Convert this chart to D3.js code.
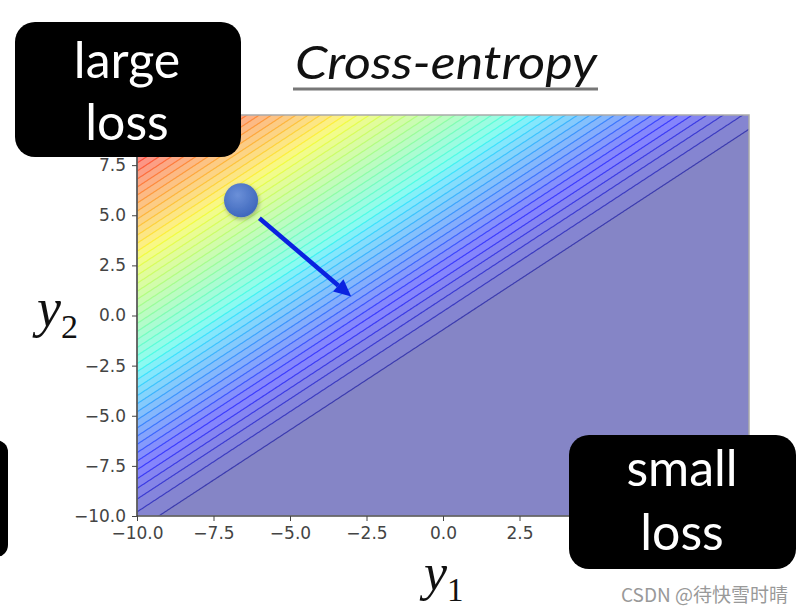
<!DOCTYPE html>
<html><head><meta charset="utf-8">
<script src="https://cdn.jsdelivr.net/npm/d3@7"></script>
<style>body{margin:0;background:#fff}svg{display:block}</style>
</head><body><svg id="c" width="804" height="614"></svg>
<script>
// ---- data ----
const y1Domain = [-10, 10];
const y2Domain = [-10, 10];
// only the ticks that are not hidden behind the label boxes
const xTickValues = [-10, -7.5, -5, -2.5, 0, 2.5];
const xTickLabels = ["−10.0", "−7.5", "−5.0", "−2.5", "0.0", "2.5"];
const yTickValues = [-10, -7.5, -5, -2.5, 0, 2.5, 5, 7.5];
const yTickLabels = ["−10.0", "−7.5", "−5.0", "−2.5", "0.0", "2.5", "5.0", "7.5"];
const lossLevels = [0, 0.4, 0.8, 1.2, 1.6, 2, 2.4, 2.8, 3.2, 3.6, 4, 4.4, 4.8, 5.2, 5.6, 6, 6.4, 6.8, 7.2, 7.6, 8,
  8.4, 8.8, 9.2, 9.6, 10, 10.4, 10.8, 11.2, 11.6, 12, 12.4, 12.8, 13.2, 13.6, 14, 14.4, 14.8, 15.2, 15.6, 16,
  16.4, 16.8, 17.2, 17.6, 18, 18.4, 18.8, 19.2, 19.6, 20];
const startPoint = [-6.6, 5.75];
const arrowFrom = [-6.0, 4.85];
const arrowTo = [-3.0, 0.95];
const titleText = "Cross-entropy";
const boxTopLeft = ["large", "loss"];
const boxBottomRight = ["small", "loss"];
const watermark = "CSDN @待快雪时晴";

// cross-entropy of softmax([y1, y2]) with target class 1
function loss(y1, y2) { return Math.log1p(Math.exp(y2 - y1)); }

// ---- scales ----
const svg = d3.select("#c");
const X = d3.scaleLinear().domain(y1Domain).range([137, 749]);
const Y = d3.scaleLinear().domain(y2Domain).range([516, 115]);

// jet colormap
function seg(p) { return d3.scaleLinear().domain(p.map(d => d[0])).range(p.map(d => d[1])).clamp(true); }
const jr = seg([[0, 0], [0.35, 0], [0.66, 1], [0.89, 1], [1, 0.5]]);
const jg = seg([[0, 0], [0.125, 0], [0.375, 1], [0.64, 1], [0.91, 0], [1, 0]]);
const jb = seg([[0, 0.5], [0.11, 1], [0.34, 1], [0.65, 0], [1, 0]]);
function jet(t, a) {
  const f = v => Math.round(v * 255 * a + 250 * (1 - a));
  return `rgb(${f(jr(t))},${f(jg(t))},${f(jb(t))})`;
}
const vmax = lossLevels[lossLevels.length - 1];

// ---- grid ----
const lo = -10.6, hi = 10.6, n = 300;
const values = new Array(n * n);
for (let j = 0; j < n; j++) for (let i = 0; i < n; i++) {
  const a = lo + (hi - lo) * (i + 0.5) / n, b = lo + (hi - lo) * (j + 0.5) / n;
  values[j * n + i] = loss(a, b);
}
const contours = d3.contours().size([n, n]).thresholds(lossLevels)(values);
const proj = d3.geoTransform({ point(x, y) { this.stream.point(X(lo + (hi - lo) * x / n), Y(lo + (hi - lo) * y / n)); } });
const path = d3.geoPath(proj);

const defs = svg.append("defs");
defs.append("clipPath").attr("id", "clip").append("rect")
  .attr("x", X(-10)).attr("y", Y(10)).attr("width", X(10) - X(-10)).attr("height", Y(-10) - Y(10));

const plot = svg.append("g").attr("clip-path", "url(#clip)");
const step = lossLevels[1] - lossLevels[0];
plot.selectAll("path.band").data(contours).join("path").attr("class", "band")
  .attr("d", path)
  .attr("fill", d => jet(Math.min(1, (d.value + step / 2) / vmax), 0.47))
  .attr("stroke", "none");
plot.selectAll("path.iso").data(contours.slice(1)).join("path").attr("class", "iso")
  .attr("d", path)
  .attr("fill", "none")
  .attr("stroke", d => jet(d.value / vmax, 1))
  .attr("stroke-opacity", 0.55)
  .attr("stroke-width", 1.2);

// frame
svg.append("rect").attr("x", X(-10)).attr("y", Y(10)).attr("width", X(10) - X(-10)).attr("height", Y(-10) - Y(10))
  .attr("fill", "none").attr("stroke", "#aaa").attr("stroke-width", 1.5);
svg.append("line").attr("x1", X(-10)).attr("x2", X(-10)).attr("y1", Y(10)).attr("y2", Y(-10)).attr("stroke", "#333").attr("stroke-width", 1.2);
svg.append("line").attr("x1", X(-10)).attr("x2", X(10)).attr("y1", Y(-10)).attr("y2", Y(-10)).attr("stroke", "#333").attr("stroke-width", 1.2);

// axes
const xAxis = d3.axisBottom(X).tickValues(xTickValues).tickFormat((d, i) => xTickLabels[i]).tickSize(5).tickPadding(6);
const yAxis = d3.axisLeft(Y).tickValues(yTickValues).tickFormat((d, i) => yTickLabels[i]).tickSize(5).tickPadding(6);
const gx = svg.append("g").attr("transform", `translate(0,${Y(-10)})`).call(xAxis);
const gy = svg.append("g").attr("transform", `translate(${X(-10)},0)`).call(yAxis);
[gx, gy].forEach(g => {
  g.select(".domain").remove();
  g.selectAll("line").attr("stroke", "#444");
  g.selectAll("text").attr("fill", "#444").style("font-family", "DejaVu Sans").style("font-size", "17px");
});

// axis labels
const ml = svg.append("text").attr("x", 37).attr("y", 326).style("font-family", "Liberation Serif").attr("fill", "#111");
ml.append("tspan").style("font-style", "italic").style("font-size", "54px").text("y");
ml.append("tspan").style("font-size", "34px").attr("dy", 12).text("2");
const xl = svg.append("text").attr("x", 424).attr("y", 590).style("font-family", "Liberation Serif").attr("fill", "#111");
xl.append("tspan").style("font-style", "italic").style("font-size", "52px").text("y");
xl.append("tspan").style("font-size", "33px").attr("dy", 11).text("1");

// dot
const rg = defs.append("radialGradient").attr("id", "dotg").attr("cx", "40%").attr("cy", "35%").attr("r", "65%");
rg.append("stop").attr("offset", "0%").attr("stop-color", "#6b90d8");
rg.append("stop").attr("offset", "100%").attr("stop-color", "#3f68bd");
const sh = defs.append("filter").attr("id", "sh").attr("x", "-50%").attr("y", "-50%").attr("width", "200%").attr("height", "200%");
sh.append("feDropShadow").attr("dx", 1).attr("dy", 2).attr("stdDeviation", 2).attr("flood-color", "#000").attr("flood-opacity", 0.3);
svg.append("circle").attr("cx", X(startPoint[0])).attr("cy", Y(startPoint[1])).attr("r", 17)
  .attr("fill", "url(#dotg)").attr("filter", "url(#sh)");

// arrow
{
  const x0 = X(arrowFrom[0]), y0 = Y(arrowFrom[1]), x1 = X(arrowTo[0]), y1 = Y(arrowTo[1]);
  const ang = Math.atan2(y1 - y0, x1 - x0), L = 17, W = 8;
  const bx = x1 - L * Math.cos(ang), by = y1 - L * Math.sin(ang);
  svg.append("line").attr("x1", x0).attr("y1", y0).attr("x2", bx).attr("y2", by)
    .attr("stroke", "#0a22e0").attr("stroke-width", 4.5);
  svg.append("path").attr("d", `M${x1},${y1}L${bx + W * Math.sin(ang)},${by - W * Math.cos(ang)}L${bx - W * Math.sin(ang)},${by + W * Math.cos(ang)}Z`)
    .attr("fill", "#0a22e0");
}

// title
svg.append("text").attr("x", 295).attr("y", 79).attr("textLength", 302).attr("lengthAdjust", "spacingAndGlyphs")
  .style("font-family", "Lato").style("font-style", "italic").style("font-size", "46px").attr("fill", "#111").text(titleText);
svg.append("line").attr("x1", 293).attr("x2", 598).attr("y1", 89).attr("y2", 89).attr("stroke", "#777").attr("stroke-width", 3);

// boxes
function box(x, y, w, h, lines, cx, b1, b2) {
  svg.append("rect").attr("x", x).attr("y", y).attr("width", w).attr("height", h).attr("rx", 20).attr("fill", "#000");
  [b1, b2].forEach((b, i) => svg.append("text").attr("x", cx).attr("y", b).attr("text-anchor", "middle")
    .style("font-family", "Lato").style("font-size", "50px").attr("fill", "#fff").text(lines[i]));
}
box(15, 22, 226, 135, boxTopLeft, 127, 78, 140);
box(569, 435, 227, 134, boxBottomRight, 682, 486, 550);
svg.append("rect").attr("x", -30).attr("y", 440).attr("width", 38).attr("height", 117).attr("rx", 12).attr("fill", "#000");

// watermark
svg.append("text").attr("x", 788).attr("y", 602).attr("text-anchor", "end")
  .style("font-family", "Noto Sans CJK SC").style("font-size", "19px").attr("fill", "#999").text(watermark);
</script></body></html>
